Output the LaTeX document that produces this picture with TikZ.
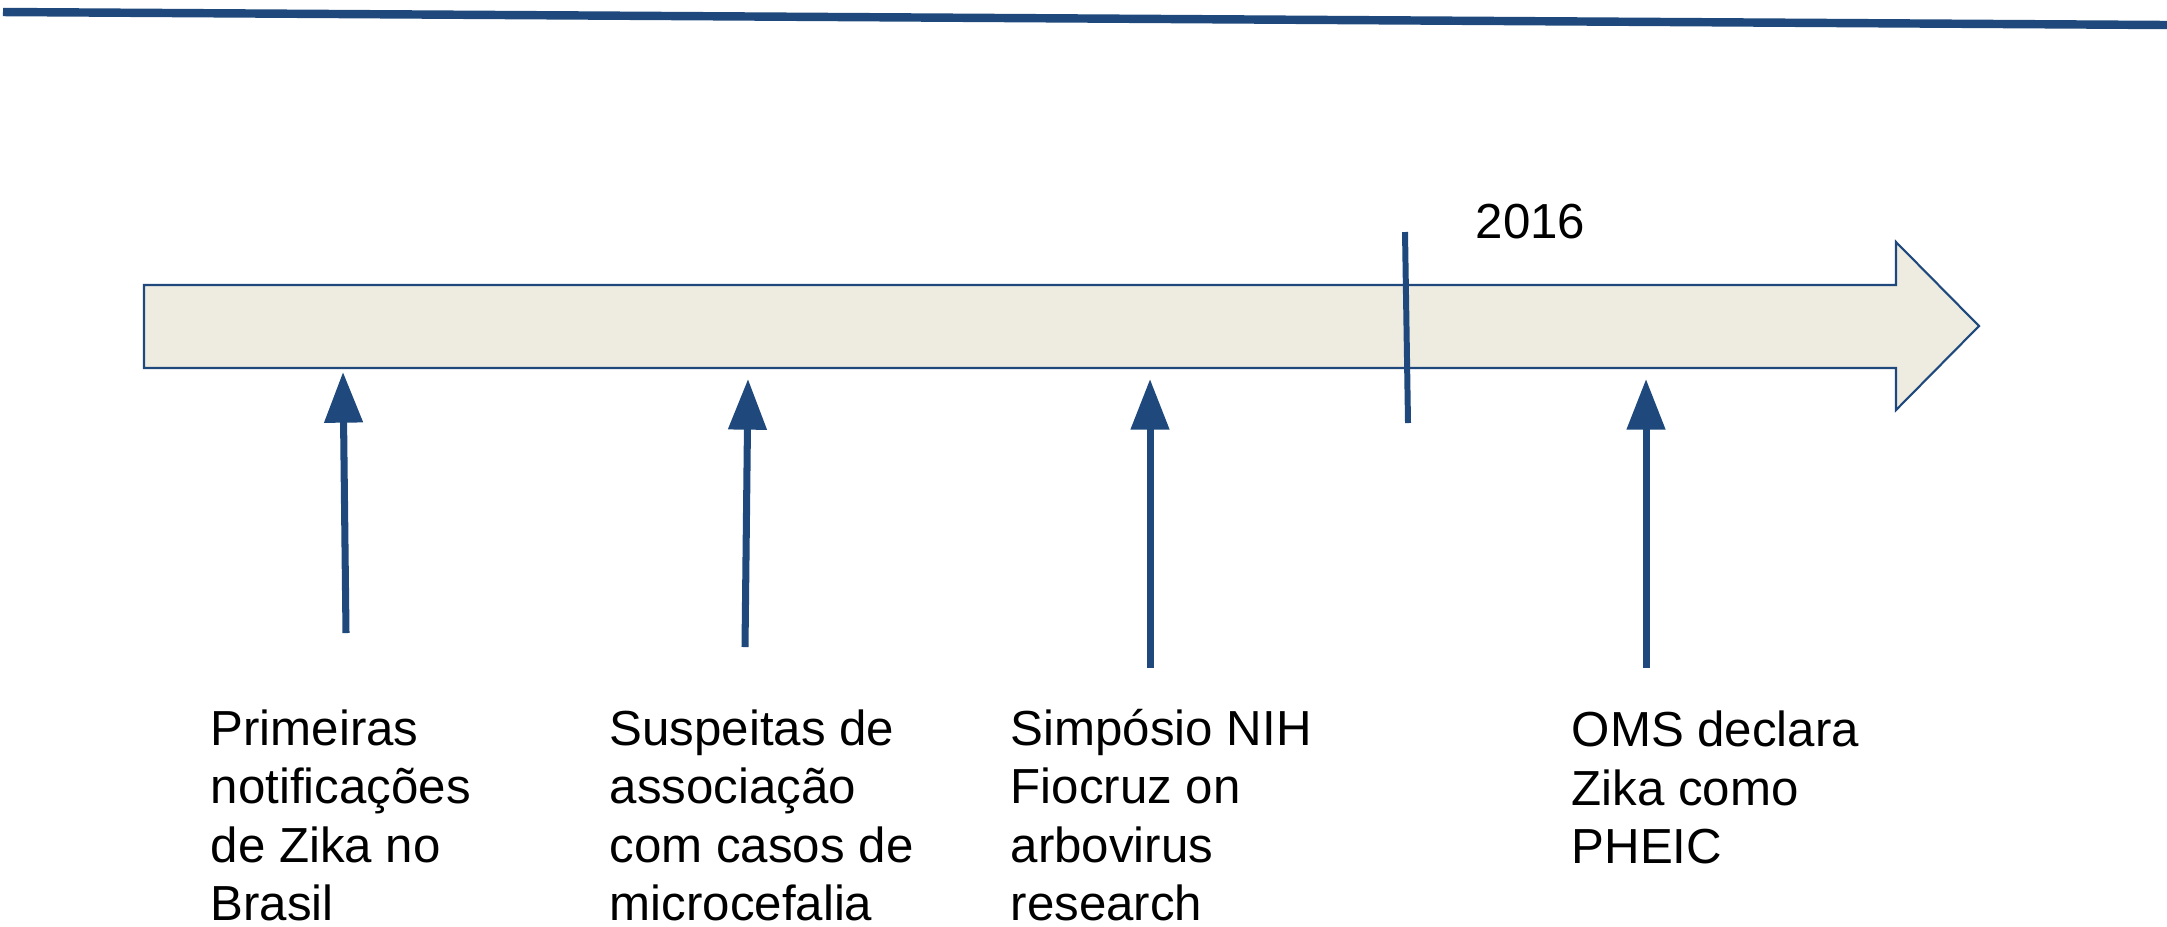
\documentclass[tikz,border=0pt]{standalone}
\usepackage{fontspec}
\setmainfont{Liberation Sans}
\usetikzlibrary{arrows.meta}
\definecolor{linhaazul}{RGB}{31,73,125}
\definecolor{fundoseta}{RGB}{238,236,225}
\tikzset{
  evento/.style={draw=linhaazul, line width=2pt, -{Triangle[width=10.6pt,length=14.4pt]}},
  rotulo/.style={anchor=base west, align=left, inner sep=0pt, font=\fontsize{14}{16.5}\selectfont},
}
\begin{document}
\begin{tikzpicture}[x=0.01cm, y=-0.01cm, line join=miter]
  \useasboundingbox (0,0) rectangle (2167,926);
  % linha do topo
  \coordinate (topoA) at (3,12);
  \coordinate (topoB) at (2167,25);
  \draw[linhaazul, line width=2.4pt] (topoA)--(topoB);
  % seta do tempo
  \draw[draw=linhaazul, fill=fundoseta, line width=0.6pt] (144,285)--(1896,285)--(1896,242)--(1979,326)--(1896,410)--(1896,368)--(144,368)--cycle;
  % marca de 2016
  \coordinate (marcaA) at (1405,232);
  \coordinate (marcaB) at (1408,423);
  \draw[linhaazul, line width=1.7pt] (marcaA)--(marcaB);
  \node[rotulo] (ano) at (1475,238) {2016};
  % eventos
  \foreach \n/\xa/\ya/\xb/\yb in {1/346/633/343/372, 2/745/647/748/379, 3/1150/668/1150/379, 4/1646/668/1646/379}{
    \coordinate (cauda\n) at (\xa,\ya);
    \coordinate (ponta\n) at (\xb,\yb);
    \draw[evento] (cauda\n)--(ponta\n);
  }
  % textos (ancorados na ultima linha)
  \node[rotulo] (ev1) at (210,920) {Primeiras\\notificações\\de Zika no\\Brasil};
  \node[rotulo] (ev2) at (609,920) {Suspeitas de\\associação\\com casos de\\microcefalia};
  \node[rotulo] (ev3) at (1010,920) {Simpósio NIH\\Fiocruz on\\arbovirus\\research};
  \node[rotulo] (ev4) at (1571,863) {OMS declara\\Zika como\\PHEIC};
\end{tikzpicture}
\end{document}
